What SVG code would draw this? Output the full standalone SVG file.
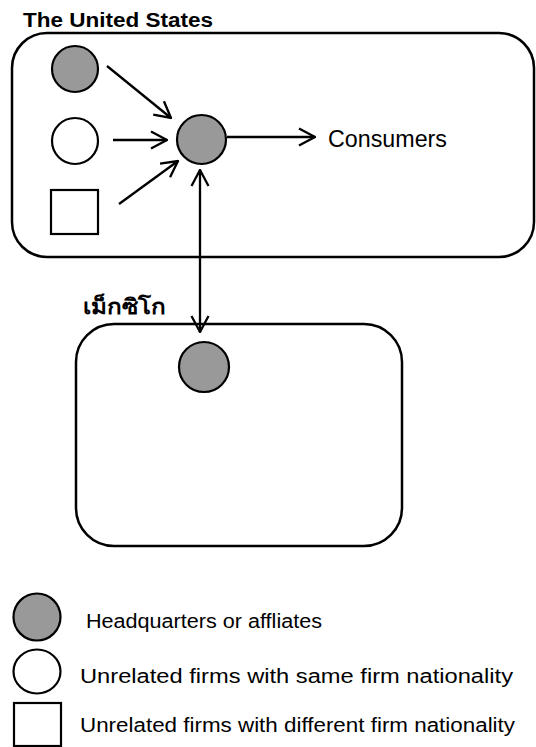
<svg xmlns="http://www.w3.org/2000/svg" width="536" height="747" viewBox="0 0 536 747">
<style>
.box{fill:#fff;stroke:#000;stroke-width:2.5}
.hq{fill:#999;stroke:#000;stroke-width:2.2}
.un{fill:#fff;stroke:#000;stroke-width:2.2}
.con{fill:none;stroke:#000;stroke-width:2.3}
.t{font-family:"Liberation Sans",Arial,sans-serif;fill:#000}
.b{font-weight:bold}
</style>
<defs>
<marker id="ah" viewBox="0 0 18 20" refX="17" refY="10" markerWidth="18" markerHeight="20" markerUnits="userSpaceOnUse" orient="auto-start-reverse">
<path d="M1,1.5 L17,10 L1,18.5" fill="none" stroke="#000" stroke-width="2.3"/>
</marker>
</defs>
<rect width="536" height="747" fill="#fff"/>
<g id="us">
<rect class="box" x="12" y="33" width="522" height="224" rx="35"/>
<text class="t b" x="23" y="27" font-size="20" textLength="190" lengthAdjust="spacingAndGlyphs">The United States</text>
</g>
<g id="mexico">
<rect class="box" x="76" y="324" width="326" height="222" rx="38"/>
<text class="t b" x="83" y="314" font-size="21" font-family="'Noto Sans','DejaVu Sans',sans-serif" textLength="83" lengthAdjust="spacingAndGlyphs">เม็กซิโก</text>
</g>
<g id="us-hq"><circle class="hq" cx="75" cy="69" r="23"/></g>
<g id="us-same"><circle class="un" cx="75" cy="141" r="23"/></g>
<g id="us-diff"><rect class="un" x="51" y="190" width="47" height="44"/></g>
<g id="us-center"><circle class="hq" cx="201.5" cy="139.5" r="24.5"/></g>
<g id="consumers"><text class="t" x="328" y="147" font-size="23" textLength="119" lengthAdjust="spacingAndGlyphs">Consumers</text></g>
<g id="mx-hq"><circle class="hq" cx="204" cy="367" r="25"/></g>
<g id="connectors">
<line class="con" x1="107" y1="66" x2="171" y2="118" marker-end="url(#ah)"/>
<line class="con" x1="113" y1="140" x2="167" y2="140" marker-end="url(#ah)"/>
<line class="con" x1="119" y1="204" x2="178" y2="161" marker-end="url(#ah)"/>
<line class="con" x1="227" y1="137" x2="315" y2="137" marker-end="url(#ah)"/>
<line class="con" x1="200" y1="170" x2="200" y2="332" marker-start="url(#ah)" marker-end="url(#ah)"/>
</g>
<g id="legend">
<circle class="hq" cx="37" cy="617" r="23.5"/>
<text class="t" x="86" y="628" font-size="20" textLength="236" lengthAdjust="spacingAndGlyphs">Headquarters or affliates</text>
<ellipse class="un" cx="37" cy="671.5" rx="23.5" ry="22"/>
<text class="t" x="80" y="683" font-size="20" textLength="433" lengthAdjust="spacingAndGlyphs">Unrelated firms with same firm nationality</text>
<rect class="un" x="14" y="703" width="47" height="43"/>
<text class="t" x="80" y="732" font-size="20" textLength="435" lengthAdjust="spacingAndGlyphs">Unrelated firms with different firm nationality</text>
</g>
</svg>
